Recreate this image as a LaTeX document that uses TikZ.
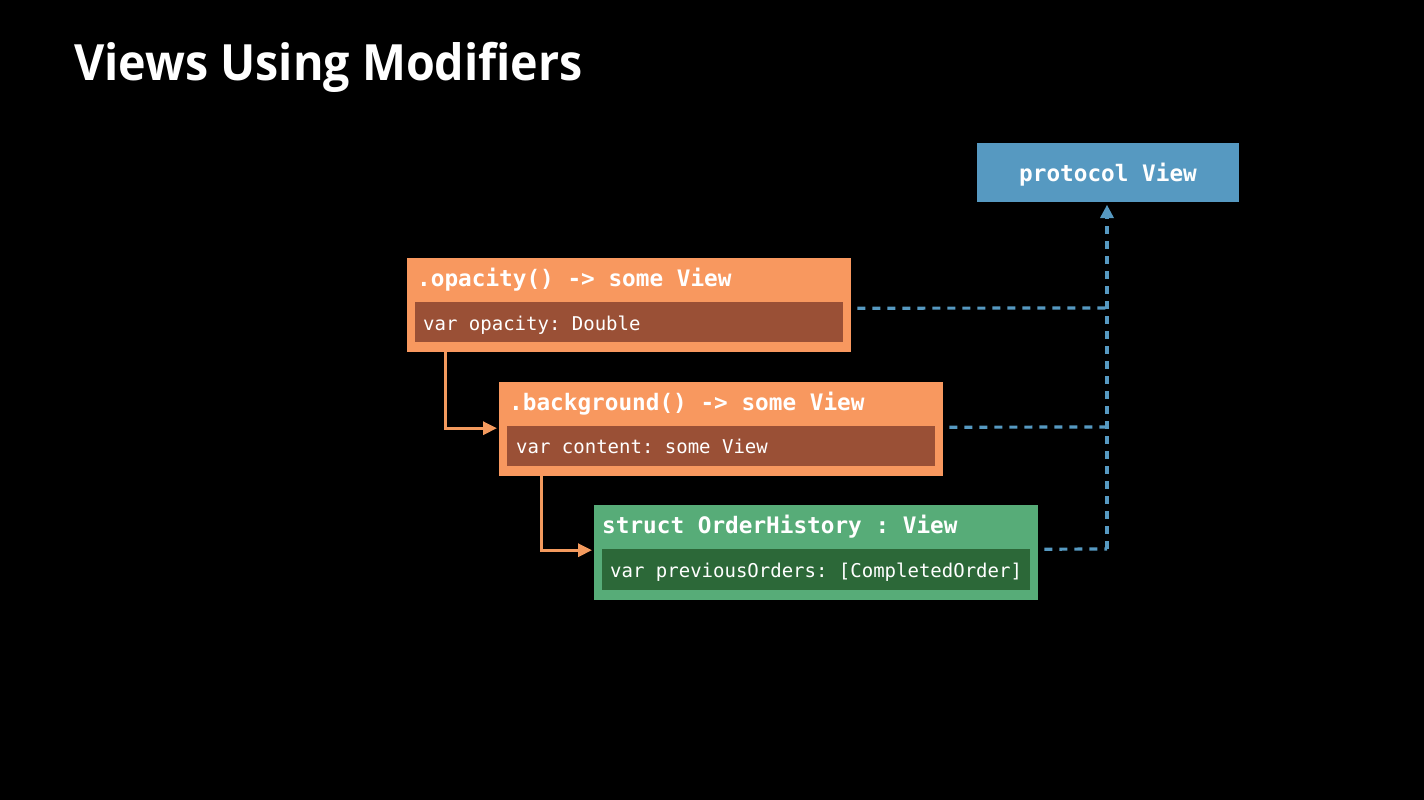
\documentclass[tikz,border=0pt]{standalone}
\usepackage{fontspec}
\setmainfont{Open Sans}
\setmonofont{DejaVu Sans Mono}
\usetikzlibrary{arrows.meta}
\definecolor{boxorange}{HTML}{F8985F}
\definecolor{boxbrown}{HTML}{9A5036}
\definecolor{boxgreen}{HTML}{57AC78}
\definecolor{boxdkgreen}{HTML}{2C6838}
\definecolor{boxblue}{HTML}{5699C1}
\definecolor{linkorange}{HTML}{F39A5E}
\begin{document}
\begin{tikzpicture}[x=1pt,y=-1pt,
  outerbox/.style={draw=none, inner sep=0pt, anchor=north west, minimum width=444pt, minimum height=94pt},
  innerbox/.style={draw=none, inner sep=0pt, anchor=north west, minimum width=428pt, minimum height=40pt},
  titletext/.style={anchor=base west, inner sep=0pt, text=white, font=\fontsize{22.7}{26}\ttfamily\bfseries},
  bodytext/.style={anchor=base west, inner sep=0pt, text=white, font=\fontsize{19}{22}\ttfamily},
  conform/.style={draw=boxblue, line width=3.2pt, dash pattern=on 8pt off 7pt},
  chain/.style={draw=linkorange, line width=3pt, -{Triangle[length=14pt,width=13pt]}}
]
\fill[black] (0,0) rectangle (1424,800);
\node[anchor=base west, inner sep=0pt, text=white, font=\fontsize{50}{56}\selectfont\bfseries] (title) at (74,81) {\scalebox{0.932}[1]{Views Using Modifiers}};

% protocol View
\node[fill=boxblue, inner sep=0pt, anchor=north west, minimum width=262pt, minimum height=59pt] (pv) at (977,143) {};
\node[titletext, anchor=base] (pvt) at (1108,181) {protocol View};

% opacity
\node[outerbox, fill=boxorange] (op) at (407,258) {};
\node[innerbox, fill=boxbrown] (opi) at (415,302) {};
\node[titletext] (opt) at (417,286) {.opacity() -> some View};
\node[bodytext] (opb) at (423,330) {var opacity: Double};

% background
\node[outerbox, fill=boxorange] (bg) at (499,382) {};
\node[innerbox, fill=boxbrown] (bgi) at (507,426) {};
\node[titletext] (bgt) at (509,410) {.background() -> some View};
\node[bodytext] (bgb) at (516,453) {var content: some View};

% OrderHistory
\node[outerbox, fill=boxgreen, minimum height=95pt] (oh) at (594,505) {};
\node[innerbox, fill=boxdkgreen, minimum height=41pt] (ohi) at (602,549) {};
\node[titletext] (oht) at (602,533) {struct OrderHistory : View};
\node[bodytext] (ohb) at (610,577) {var previousOrders: [CompletedOrder]};

% conformance lines
\coordinate (j1) at (1107,308);
\coordinate (j2) at (1107,427);
\coordinate (j3) at (1107,549);
\draw[conform] ([xshift=6pt,yshift=-3pt]op.east) -- (j1);
\draw[conform] ([xshift=6pt,yshift=2pt]bg.east) -- (j2);
\draw[conform] ([xshift=6pt,yshift=3.5pt]oh.east) -- (j3);
\draw[conform] (j3) -- (1107,218);
\draw[fill=boxblue, draw=none] (1107,205) -- (1100,218) -- (1114,218) -- cycle;

% chain arrows
\draw[chain] ([xshift=38pt]op.south west) |- ([xshift=-2pt,yshift=1pt]bg.west);
\draw[chain] ([xshift=42pt]bg.south west) |- ([xshift=-2pt,yshift=2.5pt]oh.west);
\end{tikzpicture}
\end{document}
